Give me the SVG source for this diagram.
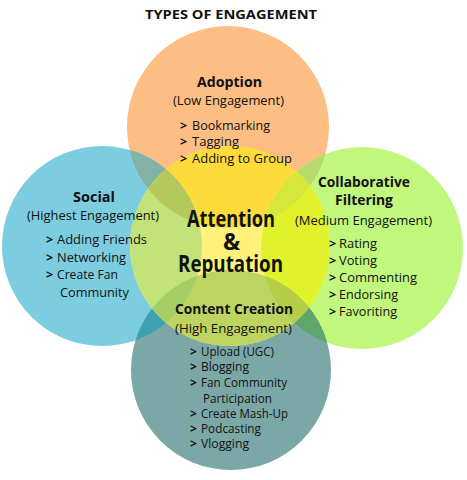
<svg xmlns="http://www.w3.org/2000/svg" width="467" height="480" viewBox="0 0 467 480">
<defs>
<clipPath id="cO"><circle cx="228" cy="127" r="101"/></clipPath>
<clipPath id="cB"><circle cx="102" cy="246" r="100"/></clipPath>
<clipPath id="cG"><circle cx="362" cy="248" r="101"/></clipPath>
<clipPath id="cT"><circle cx="231" cy="370" r="100"/></clipPath>
<clipPath id="cY"><circle cx="230" cy="246" r="100"/></clipPath>
<style>
text{font-family:"Open Sans","Noto Sans","Liberation Sans",sans-serif;fill:#111;}
.title{font-size:13px;font-weight:700;}
.head{font-size:14px;font-weight:700;text-anchor:middle;}
.sub{font-size:13px;text-anchor:middle;}
.item{font-size:12.5px;}
.bul{font-size:12.5px;font-weight:700;}
.sm{font-size:12px;}
.big{font-size:23px;font-weight:700;text-anchor:middle;}
</style>
</defs>
<rect width="467" height="480" fill="#ffffff"/>
<g id="venn">
<circle cx="228" cy="127" r="101" fill="#FCBE82"/>
<circle cx="102" cy="246" r="100" fill="#7DCDE0"/>
<circle cx="362" cy="248" r="101" fill="#C1F77D"/>
<circle cx="231" cy="370" r="100" fill="#7BA8A6"/>
<circle cx="102" cy="246" r="100" fill="#82B3A6" clip-path="url(#cO)"/>
<circle cx="362" cy="248" r="101" fill="#B8DA6E" clip-path="url(#cO)"/>
<circle cx="102" cy="246" r="100" fill="#3DA2B4" clip-path="url(#cT)"/>
<circle cx="362" cy="248" r="101" fill="#5FA66E" clip-path="url(#cT)"/>
<circle cx="230" cy="246" r="100" fill="#FEF27A"/>
<circle cx="228" cy="127" r="101" fill="#FDDB3B" clip-path="url(#cY)"/>
<circle cx="102" cy="246" r="100" fill="#C2E27A" clip-path="url(#cY)"/>
<circle cx="362" cy="248" r="101" fill="#E0F22C" clip-path="url(#cY)"/>
<circle cx="231" cy="370" r="100" fill="#BDD460" clip-path="url(#cY)"/>
<g clip-path="url(#cY)">
<circle cx="102" cy="246" r="100" fill="#B4C85C" clip-path="url(#cO)"/>
<circle cx="362" cy="248" r="101" fill="#D6E63A" clip-path="url(#cO)"/>
<circle cx="102" cy="246" r="100" fill="#A6CE66" clip-path="url(#cT)"/>
<circle cx="362" cy="248" r="101" fill="#B6CE45" clip-path="url(#cT)"/>
</g>
</g>
<text class="title" x="145" y="19" textLength="172" lengthAdjust="spacingAndGlyphs">TYPES OF ENGAGEMENT</text>
<g id="adoption">
<text class="head" x="229.5" y="87" textLength="65" lengthAdjust="spacingAndGlyphs">Adoption</text>
<text class="sub" x="228.5" y="105" textLength="111" lengthAdjust="spacingAndGlyphs">(Low Engagement)</text>
<text class="bul" x="180" y="130">&gt;</text>
<text class="item" x="192" y="130" textLength="78" lengthAdjust="spacingAndGlyphs">Bookmarking</text>
<text class="bul" x="180" y="146">&gt;</text>
<text class="item" x="192" y="146" textLength="47" lengthAdjust="spacingAndGlyphs">Tagging</text>
<text class="bul" x="180" y="163">&gt;</text>
<text class="item" x="192" y="163" textLength="100" lengthAdjust="spacingAndGlyphs">Adding to Group</text>
</g>
<g id="social">
<text class="head" x="94" y="202" textLength="42" lengthAdjust="spacingAndGlyphs">Social</text>
<text class="sub" x="93" y="220" textLength="132" lengthAdjust="spacingAndGlyphs">(Highest Engagement)</text>
<text class="bul" x="46" y="244">&gt;</text>
<text class="item" x="57" y="244" textLength="90" lengthAdjust="spacingAndGlyphs">Adding Friends</text>
<text class="bul" x="46" y="262">&gt;</text>
<text class="item" x="57" y="262" textLength="69" lengthAdjust="spacingAndGlyphs">Networking</text>
<text class="bul" x="46" y="279">&gt;</text>
<text class="item" x="57" y="279" textLength="61" lengthAdjust="spacingAndGlyphs">Create Fan</text>
<text class="item" x="60" y="297" textLength="69" lengthAdjust="spacingAndGlyphs">Community</text>
</g>
<g id="collaborative">
<text class="head" x="364" y="187" textLength="92" lengthAdjust="spacingAndGlyphs">Collaborative</text>
<text class="head" x="364" y="205" textLength="58" lengthAdjust="spacingAndGlyphs">Filtering</text>
<text class="sub" x="363.5" y="225" textLength="137" lengthAdjust="spacingAndGlyphs">(Medium Engagement)</text>
<text class="bul" x="329" y="248">&gt;</text>
<text class="item" x="339" y="248" textLength="38" lengthAdjust="spacingAndGlyphs">Rating</text>
<text class="bul" x="329" y="265">&gt;</text>
<text class="item" x="339" y="265" textLength="38" lengthAdjust="spacingAndGlyphs">Voting</text>
<text class="bul" x="329" y="282">&gt;</text>
<text class="item" x="339" y="282" textLength="78" lengthAdjust="spacingAndGlyphs">Commenting</text>
<text class="bul" x="329" y="299">&gt;</text>
<text class="item" x="339" y="299" textLength="59" lengthAdjust="spacingAndGlyphs">Endorsing</text>
<text class="bul" x="329" y="316">&gt;</text>
<text class="item" x="339" y="316" textLength="58" lengthAdjust="spacingAndGlyphs">Favoriting</text>
</g>
<g id="content">
<text class="head" x="234" y="314" textLength="118" lengthAdjust="spacingAndGlyphs">Content Creation</text>
<text class="sub" x="233.5" y="333" textLength="117" lengthAdjust="spacingAndGlyphs">(High Engagement)</text>
<text class="bul sm" x="190" y="356">&gt;</text>
<text class="item sm" x="201" y="356" textLength="73" lengthAdjust="spacingAndGlyphs">Upload (UGC)</text>
<text class="bul sm" x="190" y="371">&gt;</text>
<text class="item sm" x="201" y="371" textLength="48" lengthAdjust="spacingAndGlyphs">Blogging</text>
<text class="bul sm" x="190" y="387">&gt;</text>
<text class="item sm" x="201" y="387" textLength="86" lengthAdjust="spacingAndGlyphs">Fan Community</text>
<text class="item sm" x="203" y="403" textLength="69" lengthAdjust="spacingAndGlyphs">Participation</text>
<text class="bul sm" x="190" y="418">&gt;</text>
<text class="item sm" x="201" y="418" textLength="87" lengthAdjust="spacingAndGlyphs">Create Mash-Up</text>
<text class="bul sm" x="190" y="433">&gt;</text>
<text class="item sm" x="201" y="433" textLength="60" lengthAdjust="spacingAndGlyphs">Podcasting</text>
<text class="bul sm" x="190" y="448">&gt;</text>
<text class="item sm" x="201" y="448" textLength="48" lengthAdjust="spacingAndGlyphs">Vlogging</text>
</g>
<g id="center">
<text class="big" x="231" y="227" textLength="88" lengthAdjust="spacingAndGlyphs">Attention</text>
<text class="big" x="231.5" y="250">&amp;</text>
<text class="big" x="230.5" y="272" textLength="105" lengthAdjust="spacingAndGlyphs">Reputation</text>
</g>
</svg>
